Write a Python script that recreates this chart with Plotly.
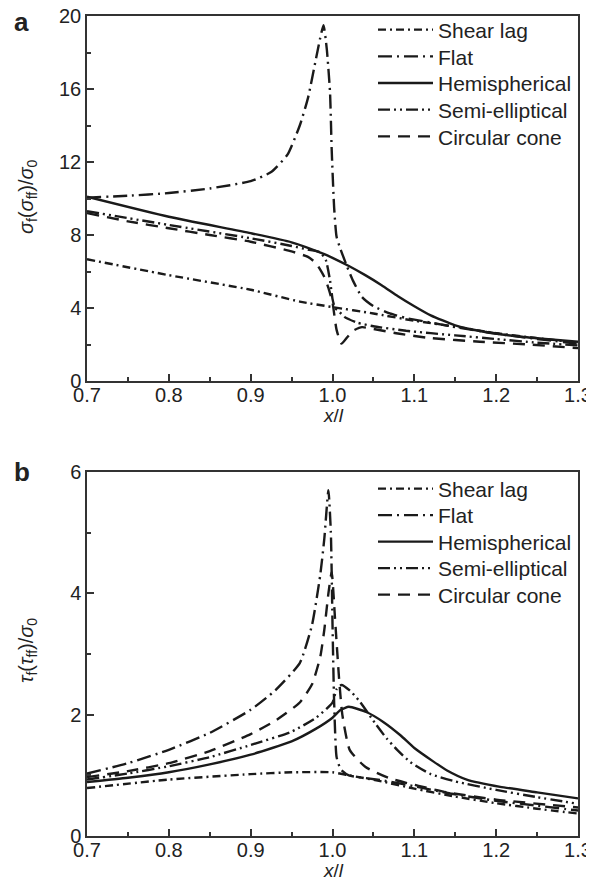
import plotly.graph_objects as go

# ---------------- Panel a data: sigma_f(sigma_ff)/sigma_0 ----------------
a_shear_x = [0.70, 0.80, 0.90, 0.96, 1.00, 1.05, 1.10, 1.15, 1.20, 1.25, 1.30]
a_shear_y = [6.67, 5.80, 5.00, 4.35, 4.05, 3.70, 3.30, 2.98, 2.62, 2.35, 2.10]

a_flat_x = [0.70, 0.75, 0.80, 0.85, 0.90, 0.925, 0.945, 0.96, 0.97, 0.98, 0.985, 0.989,
            0.993, 0.997, 0.999, 1.002, 1.005, 1.010, 1.018, 1.025, 1.036, 1.05, 1.07,
            1.09, 1.12, 1.15, 1.20, 1.25, 1.30]
a_flat_y = [10.05, 10.15, 10.30, 10.55, 10.95, 11.45, 12.40, 14.0, 15.5, 17.7, 18.8, 19.5,
            18.2, 15.8, 12.7, 9.5, 7.9, 7.2, 6.25, 5.5, 4.6, 4.1, 3.7,
            3.45, 3.2, 2.95, 2.6, 2.3, 2.05]

a_hemi_x = [0.70, 0.80, 0.90, 0.95, 0.99, 1.00, 1.02, 1.04, 1.06, 1.08, 1.10, 1.12, 1.15,
            1.185, 1.225, 1.26, 1.30]
a_hemi_y = [10.10, 9.00, 8.10, 7.60, 6.95, 6.75, 6.30, 5.80, 5.25, 4.65, 4.10, 3.60, 3.05,
            2.70, 2.45, 2.30, 2.15]

a_semi_x = [0.70, 0.80, 0.90, 0.95, 0.97, 0.985, 0.992, 0.997, 1.000, 1.003, 1.007, 1.015,
            1.03, 1.05, 1.09, 1.15, 1.20, 1.25, 1.30]
a_semi_y = [9.30, 8.55, 7.82, 7.40, 7.20, 7.05, 6.60, 5.50, 4.50, 4.00, 3.85, 3.50,
            3.20, 3.00, 2.75, 2.50, 2.30, 2.10, 1.95]

a_cone_x = [0.70, 0.75, 0.80, 0.85, 0.90, 0.95, 0.97, 0.98, 0.99, 0.995, 1.000, 1.005,
            1.011, 1.018, 1.025, 1.036, 1.05, 1.08, 1.12, 1.18, 1.24, 1.30]
a_cone_y = [9.20, 8.75, 8.37, 8.00, 7.63, 7.10, 6.80, 6.45, 5.70, 5.10, 4.30, 2.80,
            2.05, 2.40, 2.75, 2.95, 2.85, 2.60, 2.35, 2.15, 2.00, 1.80]

# ---------------- Panel b data: tau_f(tau_ff)/sigma_0 ----------------
b_shear_x = [0.70, 0.80, 0.90, 0.95, 1.00, 1.02, 1.06, 1.10, 1.15, 1.20, 1.25, 1.30]
b_shear_y = [0.79, 0.93, 1.02, 1.05, 1.05, 1.00, 0.90, 0.78, 0.65, 0.54, 0.45, 0.37]

b_flat_x = [0.70, 0.75, 0.80, 0.85, 0.90, 0.93, 0.96, 0.975, 0.985, 0.99, 0.995, 0.998,
            1.000, 1.002, 1.005, 1.010, 1.02, 1.06, 1.10, 1.144, 1.20, 1.25, 1.30]
b_flat_y = [1.03, 1.20, 1.42, 1.70, 2.08, 2.40, 2.85, 3.48, 4.30, 4.90, 5.70, 5.00,
            3.50, 2.20, 1.30, 1.10, 1.00, 0.92, 0.82, 0.70, 0.58, 0.50, 0.42]

b_hemi_x = [0.70, 0.75, 0.80, 0.85, 0.90, 0.95, 0.98, 1.00, 1.01, 1.02, 1.042, 1.062,
            1.083, 1.10, 1.123, 1.14, 1.164, 1.205, 1.25, 1.30]
b_hemi_y = [0.89, 0.96, 1.05, 1.18, 1.34, 1.56, 1.77, 1.95, 2.08, 2.13, 2.04, 1.88,
            1.66, 1.45, 1.23, 1.08, 0.93, 0.81, 0.72, 0.62]

b_semi_x = [0.70, 0.75, 0.80, 0.85, 0.90, 0.95, 0.98, 1.000, 1.005, 1.011, 1.021, 1.032,
            1.052, 1.066, 1.079, 1.095, 1.12, 1.15, 1.20, 1.25, 1.30]
b_semi_y = [0.93, 1.03, 1.15, 1.30, 1.50, 1.72, 1.95, 2.20, 2.42, 2.49, 2.40, 2.24,
            1.86, 1.61, 1.42, 1.22, 1.02, 0.90, 0.76, 0.64, 0.53]

b_cone_x = [0.70, 0.75, 0.80, 0.85, 0.90, 0.93, 0.96, 0.975, 0.985, 0.99, 0.995, 0.999,
            1.003, 1.008, 1.012, 1.021, 1.04, 1.07, 1.14, 1.20, 1.30]
b_cone_y = [0.97, 1.07, 1.20, 1.40, 1.68, 1.90, 2.20, 2.50, 2.95, 3.40, 4.00, 4.35,
            3.60, 2.60, 2.00, 1.42, 1.14, 0.95, 0.72, 0.60, 0.47]

names = ["Shear lag", "Flat", "Hemispherical", "Semi-elliptical", "Circular cone"]
dashes = ["8px,4px,2px,4px", "14px,5px,2px,5px", "solid",
          "12px,4px,2px,4px,2px,4px", "12px,8px"]

x_ticks = [0.7, 0.8, 0.9, 1.0, 1.1, 1.2, 1.3]
x_ticktext = ["0.7", "0.8", "0.9", "1.0", "1.1", "1.2", "1.3"]
a_yticks = [0, 4, 8, 12, 16, 20]
b_yticks = [0, 2, 4, 6]

panel_a = [(a_shear_x, a_shear_y), (a_flat_x, a_flat_y), (a_hemi_x, a_hemi_y),
           (a_semi_x, a_semi_y), (a_cone_x, a_cone_y)]
panel_b = [(b_shear_x, b_shear_y), (b_flat_x, b_flat_y), (b_hemi_x, b_hemi_y),
           (b_semi_x, b_semi_y), (b_cone_x, b_cone_y)]

# page body has an 8px margin; figure coordinates are page coordinates minus 8
OFF = 8
W, H = 594 - OFF, 886 - OFF

def px(x):
    return (x - OFF) / W

def py(y):
    return 1 - (y - OFF) / H

# legend row centres (page pixels) for each panel
a_rows = [30, 56.7, 83.3, 110, 136.7]
b_rows = [489, 515.5, 542, 568.5, 595]

FONT = "Liberation Sans, Arial, sans-serif"
AX = "#333333"
TXT = "#222222"
LINE = "#1a1a1a"
tickfont = dict(family=FONT, size=20, color=TXT)

fig = go.Figure()
layout_legends = {}
for p, (panel, rows, xa, ya_) in enumerate([(panel_a, a_rows, "x", "y"),
                                            (panel_b, b_rows, "x2", "y2")]):
    for i, (xs, ys) in enumerate(panel):
        k = p * 5 + i + 1
        lname = "legend" if k == 1 else "legend%d" % k
        fig.add_trace(go.Scatter(x=xs, y=ys, mode="lines", name=names[i],
                                 line=dict(color=LINE, width=2.4, dash=dashes[i],
                                           shape="spline", smoothing=0.5),
                                 xaxis=xa, yaxis=ya_, legend=lname))
        layout_legends[lname] = dict(
            x=px(373), y=py(rows[i]), xanchor="left", yanchor="middle",
            font=dict(family=FONT, size=21, color=TXT), bgcolor="rgba(0,0,0,0)",
            borderwidth=0, itemwidth=55)

xd = [px(87), px(578)]
ya = [py(381), py(16)]
yb = [py(836), py(472)]

def xaxis(anchor):
    return dict(domain=xd, range=[0.7, 1.3], anchor=anchor, automargin=False,
                tickvals=x_ticks, ticktext=x_ticktext, ticks="inside", ticklen=7,
                tickwidth=1.5, tickcolor=AX, showline=True, linecolor=AX, linewidth=1.5,
                mirror=True, showgrid=False, zeroline=False, tickfont=tickfont,
                ticklabeloverflow="allow", ticklabelstandoff=-5,
                minor=dict(dtick=0.05, ticks="inside", ticklen=4, tickwidth=1.5, tickcolor=AX))

def yaxis(anchor, dom, rng, ticks, minor_dtick):
    return dict(domain=dom, range=rng, anchor=anchor, tickvals=ticks, automargin=False,
                ticks="inside", ticklen=7, tickwidth=1.5, tickcolor=AX,
                showline=True, linecolor=AX, linewidth=1.5, mirror=True,
                showgrid=False, zeroline=False, tickfont=tickfont,
                ticklabeloverflow="allow",
                minor=dict(dtick=minor_dtick, tick0=0, ticks="inside", ticklen=4,
                           tickwidth=1.5, tickcolor=AX))

def ann(text, x, y, size, angle=0, xanchor="center"):
    return dict(text=text, x=px(x), y=py(y), xref="paper", yref="paper",
                xanchor=xanchor, yanchor="middle", showarrow=False, textangle=angle,
                font=dict(family=FONT, size=size, color=TXT))

fig.update_layout(
    width=W, height=H, margin=dict(l=0, r=0, t=0, b=0),
    paper_bgcolor="white", plot_bgcolor="white",
    xaxis=xaxis("y"),
    yaxis=yaxis("x", ya, [0, 20], a_yticks, 2),
    xaxis2=xaxis("y2"),
    yaxis2=yaxis("x2", yb, [0, 6], b_yticks, 1),
    showlegend=True,
    annotations=[
        ann("<b>a</b>", 12, 22, 26, xanchor="left"),
        ann("<b>b</b>", 12, 472, 26, xanchor="left"),
        ann("<i>x</i>/<i>l</i>", 333, 415, 19),
        ann("<i>x</i>/<i>l</i>", 333, 870, 19),
        ann("<i>σ</i><sub>f</sub>(<i>σ</i><sub>ff</sub>)/<i>σ</i><sub>0</sub>", 27, 196, 20, -90),
        ann("<i>τ</i><sub>f</sub>(<i>τ</i><sub>ff</sub>)/<i>σ</i><sub>0</sub>", 27, 650, 20, -90),
    ],
    **layout_legends,
)

fig.write_html("out.html")
